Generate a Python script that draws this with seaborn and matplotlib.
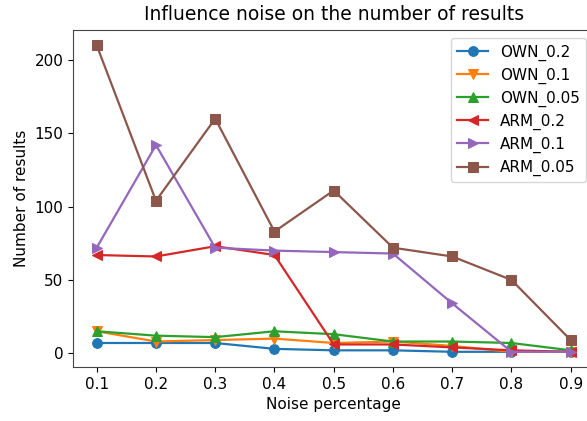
import matplotlib
matplotlib.use("Agg")
import matplotlib.pyplot as plt
import seaborn as sns
import pandas as pd

noise = [0.1, 0.2, 0.3, 0.4, 0.5, 0.6, 0.7, 0.8, 0.9]
own_02 = [7, 7, 7, 3, 2, 2, 1, 1, 1]
own_01 = [15, 8, 9, 10, 7, 8, 5, 1, 1]
own_005 = [15, 12, 11, 15, 13, 8, 8, 7, 2]
arm_02 = [67, 66, 73, 67, 6, 6, 4, 2, 1]
arm_01 = [72, 142, 72, 70, 69, 68, 34, 1, 1]
arm_005 = [210, 104, 160, 83, 111, 72, 66, 50, 9]

series = [("OWN_0.2", own_02, "o"), ("OWN_0.1", own_01, "v"),
          ("OWN_0.05", own_005, "^"), ("ARM_0.2", arm_02, "<"),
          ("ARM_0.1", arm_01, ">"), ("ARM_0.05", arm_005, "s")]
colors = sns.color_palette("tab10")

fig, ax = plt.subplots(figsize=(5.87, 4.21), dpi=100)
for i, (name, vals, m) in enumerate(series):
    df = pd.DataFrame({"x": noise, "y": vals})
    sns.lineplot(data=df, x="x", y="y", marker=m, markersize=7, linewidth=1.6,
                 color=colors[i], markeredgecolor=colors[i], label=name, ax=ax)
ax.set_xticks(noise)
ax.set_xticklabels([str(v) for v in noise])
ax.tick_params(labelsize=11)
ax.set_xlabel("Noise percentage", fontsize=11)
ax.set_ylabel("Number of results", fontsize=11)
ax.set_title("Influence noise on the number of results", fontsize=13.5, pad=7)
for s in ax.spines.values():
    s.set_color("#444444")
ax.legend(loc="upper right", fontsize=11, borderaxespad=0.55, labelspacing=0.45)
fig.subplots_adjust(left=0.1244, right=1.0126, top=0.9287, bottom=0.128)
fig.savefig("out.png", dpi=100)
